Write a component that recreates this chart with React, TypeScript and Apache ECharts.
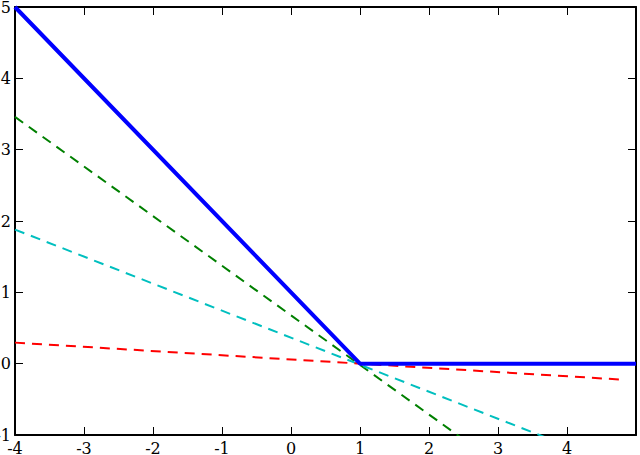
import React, { useEffect, useRef } from "react";
import * as echarts from "echarts";

const xTicks = [-4, -3, -2, -1, 0, 1, 2, 3, 4, 5];
const yTicks = [-1, 0, 1, 2, 3, 4, 5];

// hinge loss (solid blue)
const hingeX = [-4, 1, 5];
const hingeY = [5, 0, 0];

// dashed lines: endpoints
const greenX = [-4, 5];
const greenY = [3.46, -2.8];
const cyanX = [-4, 5];
const cyanY = [1.88, -1.53];
const redX = [-4, 4.84];
const redY = [0.295, -0.226];

const pts = (xs: number[], ys: number[]) => xs.map((x, i) => [x, ys[i]]);

export default function App() {
  const ref = useRef<HTMLDivElement>(null);
  useEffect(() => {
    const chart = echarts.init(ref.current!, null, { renderer: "svg" });
    const font = { fontFamily: "DejaVu Serif", fontSize: 16, color: "#000" };
    const axisCommon = {
      type: "value" as const,
      interval: 1,
      splitLine: { show: false },
      axisLine: { show: true, onZero: false, lineStyle: { color: "#000", width: 2 } },
      axisTick: { show: true, inside: true, length: 8, lineStyle: { color: "#000", width: 1 } },
    };
    chart.setOption({
      animation: false,
      grid: {
        left: 15,
        top: 7,
        width: 621,
        height: 428,
        containLabel: false,
        outerBoundsMode: "none",
      },
      xAxis: [
        {
          ...axisCommon,
          min: -4,
          max: 5,
          position: "bottom",
          axisLabel: {
            ...font,
            margin: 5,
            showMaxLabel: false,
            formatter: (v: number) => (v === xTicks[xTicks.length - 1] ? "" : String(v)),
          },
        },
        {
          ...axisCommon,
          min: -4,
          max: 5,
          position: "top",
          axisLabel: { show: false },
        },
      ],
      yAxis: [
        {
          ...axisCommon,
          min: yTicks[0],
          max: yTicks[yTicks.length - 1],
          position: "left",
          axisLabel: { ...font, margin: 4 },
        },
        {
          ...axisCommon,
          min: yTicks[0],
          max: yTicks[yTicks.length - 1],
          position: "right",
          axisLabel: { show: false },
        },
      ],
      series: [
        {
          type: "line",
          data: pts(greenX, greenY),
          showSymbol: false,
          clip: true,
          lineStyle: { color: "#008000", width: 2, type: [10, 7] },
          z: 2,
        },
        {
          type: "line",
          data: pts(cyanX, cyanY),
          showSymbol: false,
          clip: true,
          lineStyle: { color: "#00bfbf", width: 2, type: [10, 7] },
          z: 2,
        },
        {
          type: "line",
          data: pts(redX, redY),
          showSymbol: false,
          clip: true,
          lineStyle: { color: "#ff0000", width: 2, type: [10, 7] },
          z: 2,
        },
        {
          type: "line",
          data: pts(hingeX, hingeY),
          showSymbol: false,
          clip: false,
          lineStyle: { color: "#0000ff", width: 4 },
          z: 3,
        },
      ],
    });
    return () => chart.dispose();
  }, []);
  return (
    <div
      ref={ref}
      style={{ position: "fixed", left: 0, top: 0, width: 640, height: 455, background: "#fff" }}
    />
  );
}
